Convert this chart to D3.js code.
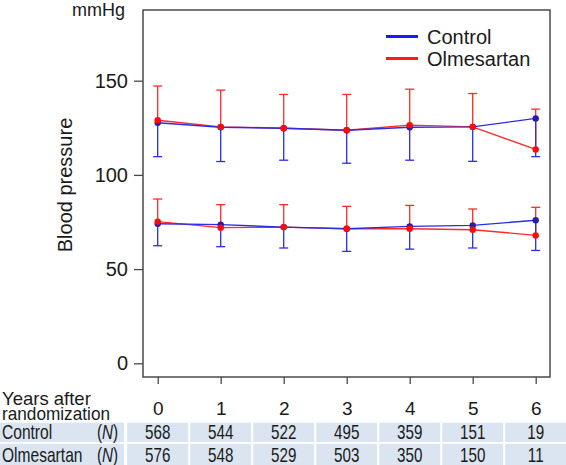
<!DOCTYPE html>
<html>
<head>
<meta charset="utf-8">
<script src="https://cdn.jsdelivr.net/npm/d3@7/dist/d3.min.js"></script>
<style>
  html, body { margin: 0; padding: 0; background: #fff; }
  svg { display: block; font-family: "Liberation Sans", Arial, sans-serif; }
</style>
</head>
<body>
<svg id="chart" width="566" height="465"></svg>
<script>
// ---- data ----
const years = [0, 1, 2, 3, 4, 5, 6];
const yTicks = [0, 50, 100, 150];
const seriesNames = ["Control", "Olmesartan"];
// systolic means
const controlSys = [127.7, 125.3, 124.8, 123.7, 125.3, 125.5, 130.0];
const olmSys     = [129.0, 125.5, 124.8, 123.7, 126.4, 125.5, 113.5];
// systolic error-bar ends (control: lower, olmesartan: upper)
const controlSysLow = [109.7, 107.1, 107.8, 106.2, 107.8, 107.2, 109.7];
const olmSysHigh    = [147.2, 145.0, 142.7, 142.7, 145.5, 143.2, 134.9];
// diastolic means
const controlDia = [74.1, 73.6, 72.3, 71.4, 72.7, 73.2, 75.9];
const olmDia     = [75.2, 72.0, 72.3, 71.4, 71.4, 70.9, 67.9];
// diastolic error-bar ends
const controlDiaLow = [62.4, 61.9, 61.2, 59.4, 60.6, 61.2, 59.9];
const olmDiaHigh    = [87.2, 84.2, 84.2, 83.3, 83.8, 81.9, 82.8];
// numbers at risk
const controlN = [568, 544, 522, 495, 359, 151, 19];
const olmN     = [576, 548, 529, 503, 350, 150, 11];

// ---- layout ----
const svg = d3.select("#chart");
const box = { left: 143, right: 550, top: 10, bottom: 377 };
const x = d3.scaleLinear().domain([0, 6]).range([157.7, 535.7]);
const y = d3.scaleLinear().domain([0, 150]).range([363.3, 80.7]);
const blueLine = "#2d2de6", blueDot = "#2a1aa8";
const redLine = "#ff2a2a", redDot = "#ff0a0a";
const textColor = "#1a1a1a";

// plot box
svg.append("rect")
  .attr("x", box.left).attr("y", box.top)
  .attr("width", box.right - box.left).attr("height", box.bottom - box.top)
  .attr("fill", "none").attr("stroke", "#4a4a4a").attr("stroke-width", 1.5);

// y axis
const yAxis = d3.axisLeft(y).tickValues(yTicks).tickSize(9).tickPadding(6);
const gy = svg.append("g").attr("transform", `translate(${box.left},0)`).call(yAxis);
gy.select(".domain").remove();
gy.selectAll(".tick line").attr("stroke", "#4a4a4a").attr("stroke-width", 1.3);
gy.selectAll(".tick text").attr("font-size", 20).attr("fill", textColor)
  .attr("font-family", "Liberation Sans, Arial, sans-serif");

// x axis
const xAxis = d3.axisBottom(x).tickValues(years).tickSize(7).tickPadding(18).tickFormat(d3.format("d"));
const gx = svg.append("g").attr("transform", `translate(0,${box.bottom})`).call(xAxis);
gx.select(".domain").remove();
gx.selectAll(".tick line").attr("stroke", "#4a4a4a").attr("stroke-width", 1.3);
gx.selectAll(".tick text").attr("font-size", 19).attr("fill", textColor)
  .attr("font-family", "Liberation Sans, Arial, sans-serif");

// units & axis title
svg.append("text").attr("x", 125).attr("y", 16).attr("text-anchor", "end")
  .attr("font-size", 18).attr("fill", textColor).text("mmHg");
svg.append("text").attr("transform", "translate(71.5,185) rotate(-90)")
  .attr("text-anchor", "middle").attr("font-size", 20).attr("fill", textColor)
  .text("Blood pressure");

// error bars
const cap = 4.5;
function errorBars(means, ends, color) {
  const g = svg.append("g").attr("stroke", color).attr("stroke-width", 1.3).attr("fill", "none");
  years.forEach((yr, i) => {
    g.append("line").attr("x1", x(yr)).attr("x2", x(yr)).attr("y1", y(means[i])).attr("y2", y(ends[i]));
    g.append("line").attr("x1", x(yr) - cap).attr("x2", x(yr) + cap).attr("y1", y(ends[i])).attr("y2", y(ends[i]));
  });
}
errorBars(olmSys, olmSysHigh, redLine);
errorBars(olmDia, olmDiaHigh, redLine);
errorBars(controlSys, controlSysLow, blueLine);
errorBars(controlDia, controlDiaLow, blueLine);

// lines
const line = d3.line().x((d, i) => x(years[i])).y(d => y(d));
[[olmSys, redLine], [olmDia, redLine], [controlSys, blueLine], [controlDia, blueLine]].forEach(([vals, c]) => {
  svg.append("path").datum(vals).attr("d", line).attr("fill", "none")
    .attr("stroke", c).attr("stroke-width", 1.4);
});

// dots
function dots(vals, color) {
  svg.append("g").selectAll("circle").data(vals).join("circle")
    .attr("cx", (d, i) => x(years[i])).attr("cy", d => y(d)).attr("r", 3.2).attr("fill", color);
}
dots(controlSys, blueDot); dots(controlDia, blueDot);
dots(olmSys, redDot); dots(olmDia, redDot);

// legend
const legY = [36.5, 58.5];
const legColors = [ "#1a1aff", "#ff1a1a" ];
seriesNames.forEach((name, i) => {
  svg.append("line").attr("x1", 386).attr("x2", 418).attr("y1", legY[i]).attr("y2", legY[i])
    .attr("stroke", legColors[i]).attr("stroke-width", 3);
  svg.append("text").attr("x", 427).attr("y", legY[i] + 7).attr("font-size", 20)
    .attr("fill", textColor).text(name);
});

// table header label
svg.append("text").attr("x", 2).attr("y", 405).attr("font-size", 18.5).attr("fill", textColor).text("Years after");
svg.append("text").attr("x", 2).attr("y", 420).attr("font-size", 18.5).attr("fill", textColor)
  .attr("textLength", 108).attr("lengthAdjust", "spacingAndGlyphs").text("randomization");

// table rows (text is horizontally condensed, as in the reference table)
const rows = [
  { label: "Control", values: controlN, y0: 422.7, y1: 442 },
  { label: "Olmesartan", values: olmN, y0: 443.8, y1: 465 }
];
const bg = "#dbe5f1";
const colW = x(1) - x(0);
const sx = 0.76;
function tableText(px, py, anchor, size) {
  return svg.append("text")
    .attr("transform", `translate(${px},${py}) scale(${sx},1)`)
    .attr("text-anchor", anchor).attr("font-size", size).attr("fill", textColor);
}
rows.forEach(r => {
  svg.append("rect").attr("x", 0).attr("y", r.y0).attr("width", 124).attr("height", r.y1 - r.y0).attr("fill", bg);
  years.forEach((yr, i) => {
    const cx0 = x(yr) - colW / 2 + 1;
    const w = i === years.length - 1 ? 566 - cx0 : colW - 2;
    svg.append("rect").attr("x", cx0).attr("y", r.y0).attr("width", w).attr("height", r.y1 - r.y0).attr("fill", bg);
    tableText(x(yr), r.y1 - 3.5, "middle", 20).text(r.values[i]);
  });
  tableText(2, r.y1 - 3.5, "start", 20.5).text(r.label);
  const t = tableText(118, r.y1 - 3.5, "end", 20);
  t.append("tspan").text("(");
  t.append("tspan").attr("font-style", "italic").text("N");
  t.append("tspan").text(")");
});
</script>
</body>
</html>
